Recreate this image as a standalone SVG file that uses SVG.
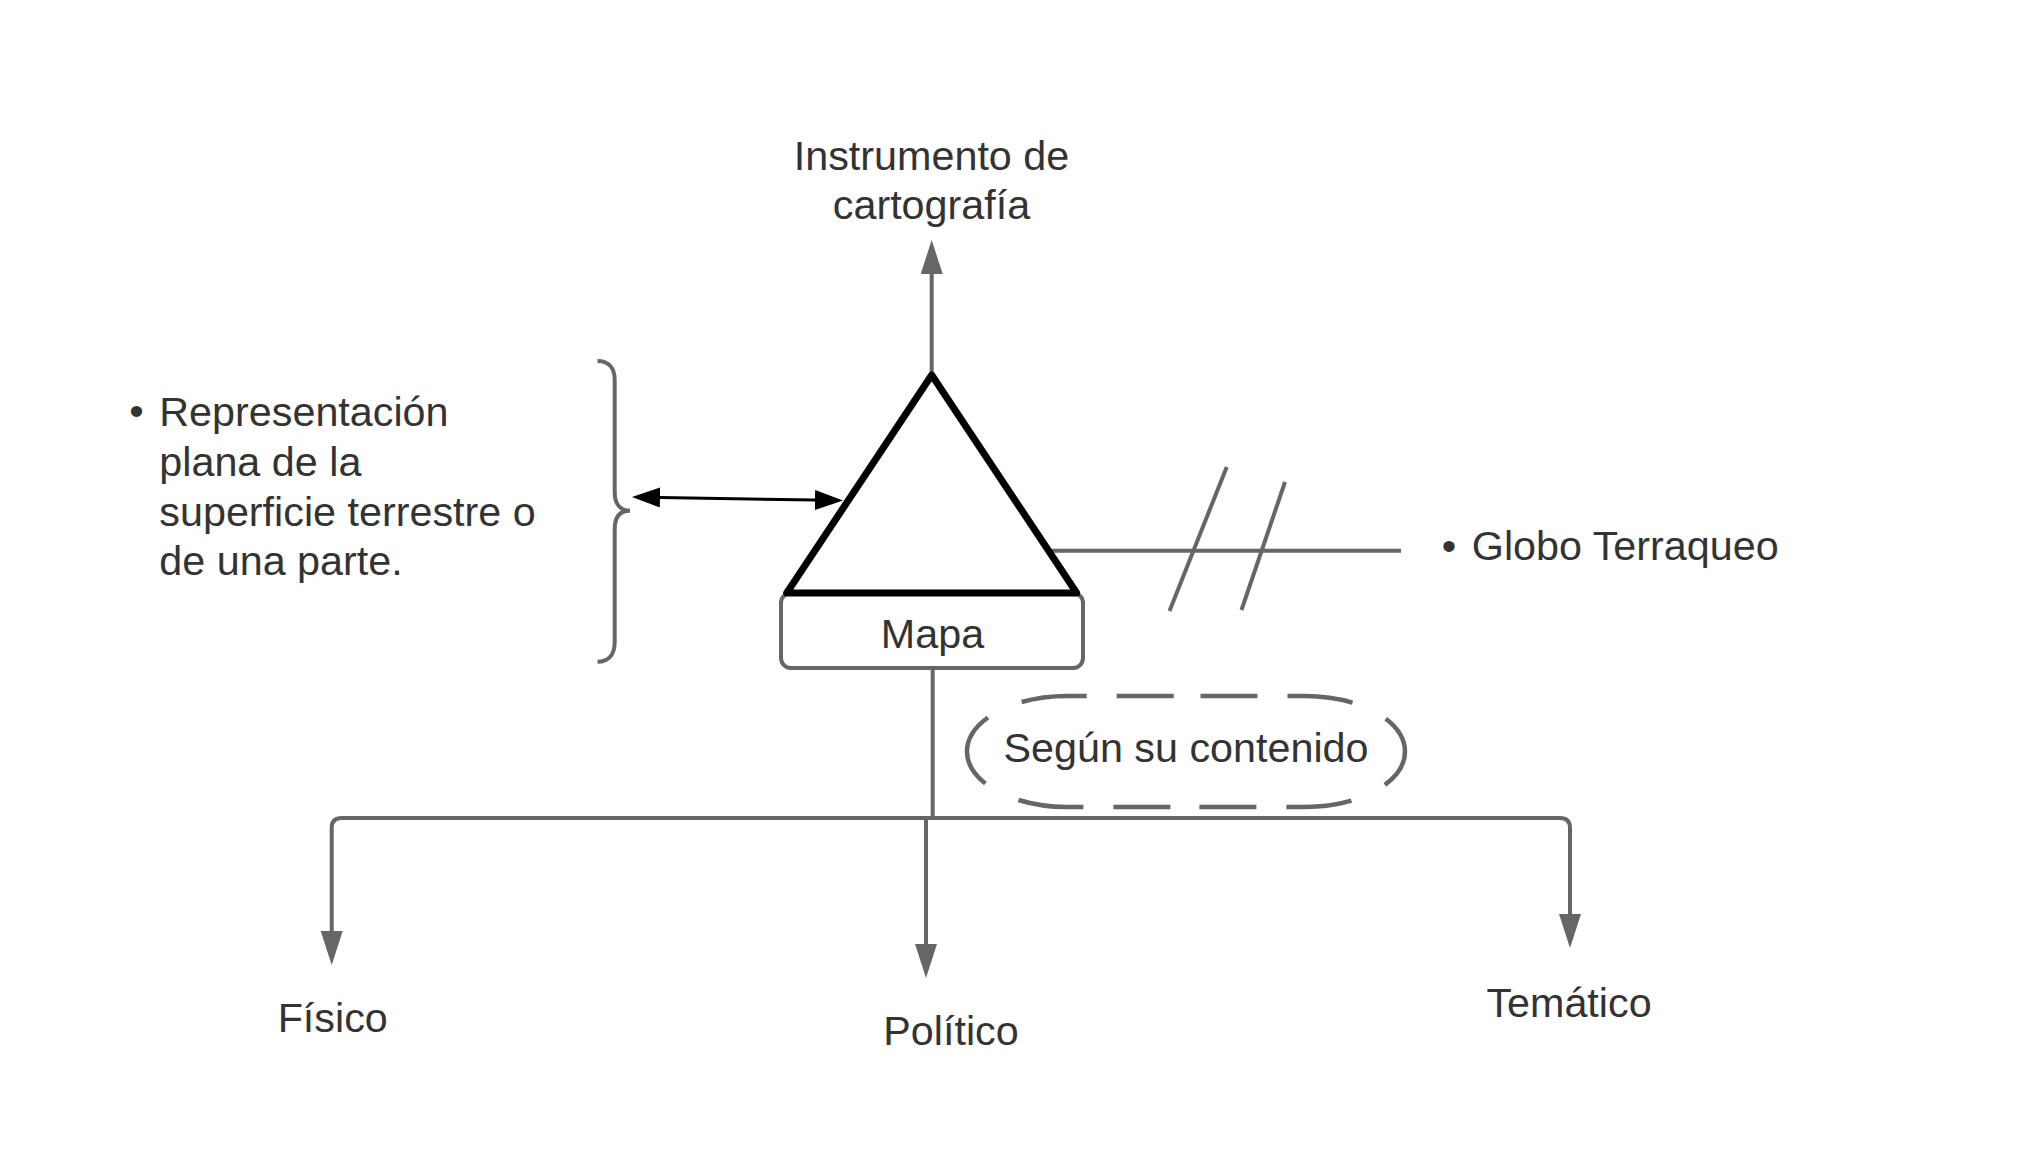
<svg xmlns="http://www.w3.org/2000/svg" width="2031" height="1155" viewBox="0 0 2031 1155">
<style>
  text { font-family: "Liberation Sans", Arial, sans-serif; font-size: 41.3px; fill: #333333; }
  .mid { text-anchor: middle; }
  .gray { stroke: #666666; fill: none; stroke-width: 4; }
  .blk { stroke: #000000; fill: none; stroke-width: 3; }
</style>
<defs>
  <marker id="ag" markerUnits="userSpaceOnUse" markerWidth="34" markerHeight="22" refX="0" refY="11" orient="auto">
    <path d="M0,0 L34,11 L0,22 z" fill="#666666"/>
  </marker>
  <marker id="ab" markerUnits="userSpaceOnUse" markerWidth="28" markerHeight="20" refX="0" refY="10" orient="auto-start-reverse">
    <path d="M0,0 L28,10 L0,20 z" fill="#000000"/>
  </marker>
</defs>
<rect width="2031" height="1155" fill="#ffffff"/>

<g id="connectors">
  <path class="gray" d="M931.7,375 L931.7,274" marker-end="url(#ag)"/>
  <path class="blk" d="M660,497.5 L815,500" marker-start="url(#ab)" marker-end="url(#ab)"/>
  <path class="gray" stroke-width="4.5" d="M1047,550.7 L1401,550.7"/>
  <path class="gray" d="M1226.7,467 L1169.5,611"/>
  <path class="gray" d="M1285,482 L1241.5,610"/>
  <path class="gray" d="M932.7,668 L932.7,818"/>
  <path class="gray" stroke-width="5.5" d="M370,818 L1493,818"/>
  <path class="gray" d="M370,818 L341.7,818 Q331.7,818 331.7,828 L331.7,931" marker-end="url(#ag)"/>
  <path class="gray" d="M926,818 L926,944" marker-end="url(#ag)"/>
  <path class="gray" d="M1493,818 L1560,818 Q1570,818 1570,828 L1570,914" marker-end="url(#ag)"/>
</g>

<g id="brace">
  <path class="gray" d="M597.5,361 C609,361 614.7,368 614.7,380 L614.7,492 C614.7,504 620,510.7 630,510.7 C620,510.7 614.7,517 614.7,529 L614.7,642 C614.7,654 609,661.7 597.5,661.7"/>
</g>

<g id="node-instrumento">
  <text class="mid" x="931.5" y="170">Instrumento de</text>
  <text class="mid" x="931.5" y="219">cartografía</text>
</g>

<g id="node-representacion">
  <text class="mid" x="136.4" y="425">•</text>
  <text x="159.3" y="426">Representación</text>
  <text x="159.3" y="476">plana de la</text>
  <text x="159.3" y="526">superficie terrestre o</text>
  <text x="159.3" y="575">de una parte.</text>
</g>

<g id="node-mapa">
  <rect x="781" y="593" width="302" height="75" rx="10" ry="10" fill="#ffffff" stroke="#666666" stroke-width="4"/>
  <polygon points="931.7,375 786.7,593 1076.7,593" fill="#ffffff" stroke="#000000" stroke-width="7" stroke-linejoin="round"/>
  <text class="mid" x="932.5" y="648">Mapa</text>
</g>

<g id="node-globo">
  <text class="mid" x="1449" y="560">•</text>
  <text x="1471.8" y="559.5">Globo Terraqueo</text>
</g>

<g id="node-segun">
  <path d="M1186,696 L1305,696 A100,55.5 0 0 1 1305,807 L1067,807 A100,55.5 0 0 1 1067,696 Z" fill="none" stroke="#666666" stroke-width="4.5" stroke-dasharray="57 30 65.5 37 80 37 65.5 30 57 29 57 30 65.5 37 80 37 65.5 30 57 29" stroke-dashoffset="-14.5"/>
  <text class="mid" x="1186" y="761.7">Según su contenido</text>
</g>

<g id="node-fisico">
  <text class="mid" x="332.7" y="1031.7">Físico</text>
</g>
<g id="node-politico">
  <text class="mid" x="951" y="1045">Político</text>
</g>
<g id="node-tematico">
  <text class="mid" x="1569" y="1017.3">Temático</text>
</g>
</svg>
